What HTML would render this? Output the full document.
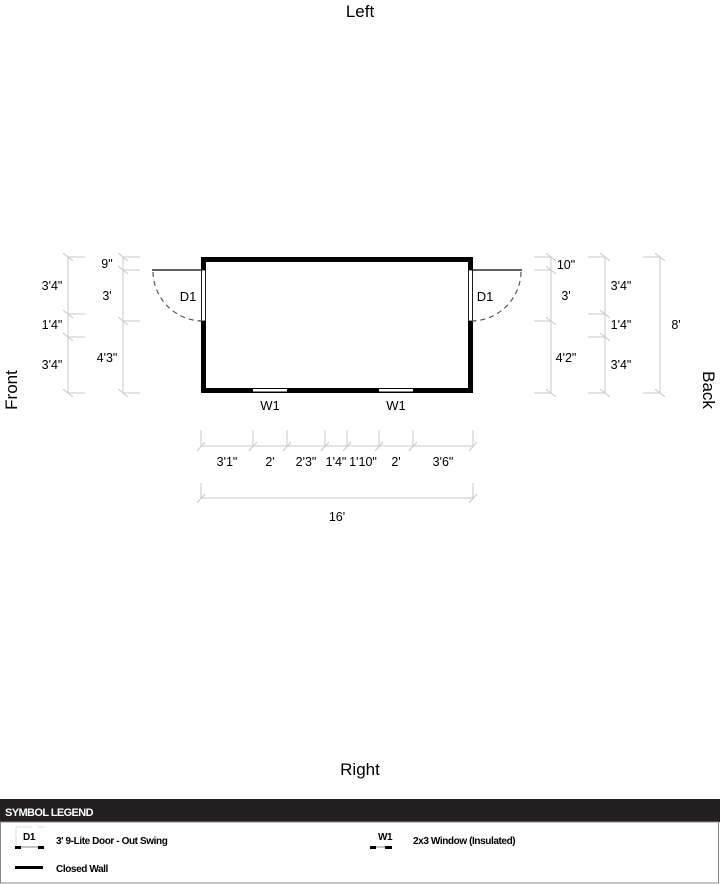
<!DOCTYPE html>
<html><head><meta charset="utf-8"><style>
html,body{margin:0;padding:0;background:#fff;width:720px;height:884px;overflow:hidden}
svg{display:block}
text{font-family:"Liberation Sans",Arial,sans-serif;fill:#000}
.d{font-size:12.5px;text-anchor:middle}
.g{stroke:#c8c8c8;stroke-width:1;fill:none}
.lg{font-family:"Liberation Sans",sans-serif;font-weight:bold;font-size:10px;letter-spacing:-0.4px}
</style></head><body>
<svg width="720" height="884" viewBox="0 0 720 884" xmlns="http://www.w3.org/2000/svg">
<text x="360" y="17" font-size="17" text-anchor="middle">Left</text>
<text x="360" y="775" font-size="17" text-anchor="middle">Right</text>
<text transform="translate(17,390) rotate(-90)" font-size="17" text-anchor="middle">Front</text>
<text transform="translate(703,390) rotate(90)" font-size="17" text-anchor="middle">Back</text>

<!-- walls -->
<rect x="201" y="257" width="272" height="5" fill="#000"/>
<rect x="201" y="388" width="272" height="5" fill="#000"/>
<rect x="201" y="257" width="5" height="136" fill="#000"/>
<rect x="468" y="257" width="5" height="136" fill="#000"/>
<!-- door openings -->
<rect x="201.5" y="270" width="4" height="51" fill="#fff" stroke="#000" stroke-width="0.8"/>
<rect x="468.5" y="270" width="4" height="51" fill="#fff" stroke="#000" stroke-width="0.8"/>
<line x1="152" y1="270" x2="202" y2="270" stroke="#000" stroke-width="1.2"/>
<line x1="472" y1="270" x2="522" y2="270" stroke="#000" stroke-width="1.2"/>
<path d="M153 272 A50 50 0 0 0 202 321" fill="none" stroke="#555" stroke-width="1.2" stroke-dasharray="5,4"/>
<path d="M521 272 A50 50 0 0 1 472 321" fill="none" stroke="#555" stroke-width="1.2" stroke-dasharray="5,4"/>
<text x="188" y="301" font-size="13" text-anchor="middle">D1</text>
<text x="485" y="301" font-size="13" text-anchor="middle">D1</text>
<!-- windows -->
<rect x="253" y="389" width="34" height="2.5" fill="#fff"/>
<rect x="379" y="389" width="34" height="2.5" fill="#fff"/>
<text x="270" y="410" font-size="13" text-anchor="middle">W1</text>
<text x="396" y="410" font-size="13" text-anchor="middle">W1</text>

<!-- left dims -->
<g class="g">
<line x1="68" y1="257" x2="68" y2="393"/>
<line x1="68" y1="257" x2="85" y2="257"/><line x1="68" y1="314" x2="85" y2="314"/>
<line x1="68" y1="337" x2="85" y2="337"/><line x1="68" y1="393" x2="85" y2="393"/>
<path d="M63 253l10 8M63 310l10 8M63 333l10 8M63 389l10 8"/>
<line x1="123" y1="257" x2="123" y2="393"/>
<line x1="123" y1="257" x2="140" y2="257"/><line x1="123" y1="270" x2="140" y2="270"/>
<line x1="123" y1="321" x2="140" y2="321"/><line x1="123" y1="393" x2="140" y2="393"/>
<path d="M118 253l10 8M118 266l10 8M118 317l10 8M118 389l10 8"/>
<!-- right dims -->
<line x1="551" y1="257" x2="551" y2="393"/>
<line x1="534" y1="257" x2="551" y2="257"/><line x1="534" y1="270" x2="551" y2="270"/>
<line x1="534" y1="321" x2="551" y2="321"/><line x1="534" y1="393" x2="551" y2="393"/>
<path d="M546 253l10 8M546 266l10 8M546 317l10 8M546 389l10 8"/>
<line x1="605" y1="257" x2="605" y2="393"/>
<line x1="588" y1="257" x2="605" y2="257"/><line x1="588" y1="314" x2="605" y2="314"/>
<line x1="588" y1="337" x2="605" y2="337"/><line x1="588" y1="393" x2="605" y2="393"/>
<path d="M600 253l10 8M600 310l10 8M600 333l10 8M600 389l10 8"/>
<line x1="660" y1="257" x2="660" y2="393"/>
<line x1="643" y1="257" x2="660" y2="257"/><line x1="643" y1="393" x2="660" y2="393"/>
<path d="M655 253l10 8M655 389l10 8"/>
<!-- bottom dims -->
<line x1="201" y1="446" x2="473" y2="446"/>
<path d="M201 430v16M253 430v16M287 430v16M325 430v16M347 430v16M379 430v16M413 430v16M473 430v16"/>
<path d="M197 451l8-9M249 451l8-9M283 451l8-9M321 451l8-9M343 451l8-9M375 451l8-9M409 451l8-9M469 451l8-9"/>
<line x1="201" y1="498" x2="473" y2="498"/>
<path d="M201 483v15M473 483v15M197 503l8-9M469 503l8-9"/>
</g>
<text class="d" x="52" y="290">3'4"</text>
<text class="d" x="52" y="329">1'4"</text>
<text class="d" x="52" y="369">3'4"</text>
<text class="d" x="107" y="268">9"</text>
<text class="d" x="107" y="300">3'</text>
<text class="d" x="107" y="362">4'3"</text>
<text class="d" x="566" y="269">10"</text>
<text class="d" x="566" y="300">3'</text>
<text class="d" x="566" y="362">4'2"</text>
<text class="d" x="621" y="290">3'4"</text>
<text class="d" x="621" y="329">1'4"</text>
<text class="d" x="621" y="369">3'4"</text>
<text class="d" x="676" y="329">8'</text>
<text class="d" x="227" y="466">3'1"</text>
<text class="d" x="270" y="466">2'</text>
<text class="d" x="306" y="466">2'3"</text>
<text class="d" x="336" y="466">1'4"</text>
<text class="d" x="363" y="466">1'10"</text>
<text class="d" x="396" y="466">2'</text>
<text class="d" x="443" y="466">3'6"</text>
<text class="d" x="337" y="521">16'</text>

<!-- legend -->
<rect x="0" y="799" width="720" height="23" fill="#231f20"/>
<text x="5" y="816" font-size="11" font-weight="bold" fill="#fff" style="fill:#fff;letter-spacing:-0.6px">SYMBOL LEGEND</text>
<rect x="0.5" y="822" width="718" height="61" fill="#fff" stroke="#888" stroke-width="1"/>
<line x1="16" y1="827" x2="16" y2="847" stroke="#ddd"/>
<line x1="16" y1="827" x2="32" y2="827" stroke="#ddd"/><line x1="38" y1="827" x2="44" y2="827" stroke="#ddd"/>
<line x1="16" y1="847" x2="44" y2="847" stroke="#888"/>
<rect x="15" y="846" width="6" height="3" fill="#000"/><rect x="38" y="846" width="6" height="3" fill="#000"/>
<text class="lg" x="23" y="840">D1</text>
<text class="lg" x="56" y="844">3' 9-Lite Door - Out Swing</text>
<line x1="370" y1="847" x2="392" y2="847" stroke="#888"/>
<rect x="370" y="846" width="6" height="3" fill="#000"/><rect x="385" y="846" width="7" height="3" fill="#000"/>
<text class="lg" x="378" y="840">W1</text>
<text class="lg" x="413" y="844">2x3 Window (Insulated)</text>
<rect x="15" y="866" width="28" height="3" fill="#000"/>
<text class="lg" x="56" y="872">Closed Wall</text>
</svg>
</body></html>
